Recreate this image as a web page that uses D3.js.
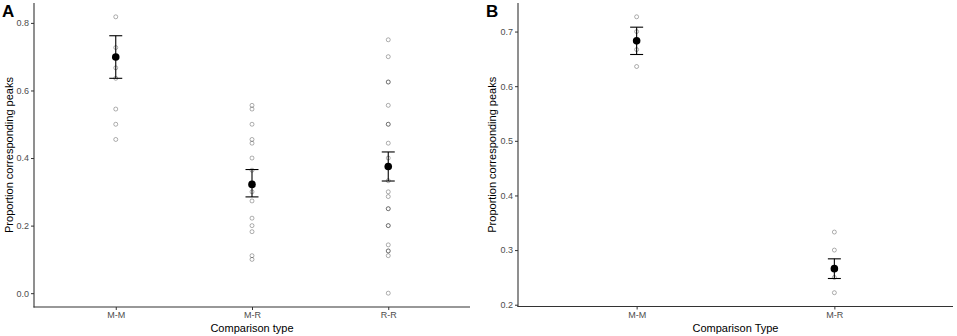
<!DOCTYPE html>
<html><head><meta charset="utf-8">
<script src="https://cdn.jsdelivr.net/npm/d3@7"></script>
<style>
body{margin:0;background:#fff;}
svg{display:block;font-family:"Liberation Sans",Arial,sans-serif;}
</style></head>
<body><svg id="c" width="957" height="336"></svg>
<script>
// Panel A data
const catsA = ["M-M", "M-R", "R-R"];
const pointsA_MM = [0.818, 0.727, 0.667, 0.636, 0.545, 0.5, 0.455];
const pointsA_MR = [0.556, 0.545, 0.5, 0.455, 0.444, 0.4, 0.364, 0.3, 0.273, 0.222, 0.2, 0.182, 0.111, 0.1];
const pointsA_RR = [0.75, 0.7, 0.625, 0.625, 0.556, 0.5, 0.5, 0.444, 0.4, 0.375, 0.333, 0.3, 0.286, 0.25, 0.25, 0.2, 0.2, 0.143, 0.125, 0.125, 0.111, 0];
const meansA = [0.699, 0.322, 0.375];
const lowA = [0.636, 0.285, 0.332];
const highA = [0.762, 0.366, 0.418];
const ticksA = [0.0, 0.2, 0.4, 0.6, 0.8];
// Panel B data
const catsB = ["M-M", "M-R"];
const pointsB_MM = [0.727, 0.7, 0.667, 0.636];
const pointsB_MR = [0.333, 0.3, 0.25, 0.222];
const meansB = [0.683, 0.266];
const lowB = [0.658, 0.248];
const highB = [0.708, 0.284];
const ticksB = [0.2, 0.3, 0.4, 0.5, 0.6, 0.7];

const svg = d3.select("#c");

function panel(o){
  const {left,right,top,bottom,cats,points,means,low,high,ticks,fmt,label,xtitle,ytitleX} = o;
  const all = points.flat().concat(low, high);
  const mn = d3.min(all), mx = d3.max(all), pad = (mx - mn) * 0.05;
  const y = d3.scaleLinear().domain([mn - pad, mx + pad]).range([bottom, top]);
  const n = cats.length;
  const x = d3.scalePoint().domain(cats).range([left, right]).padding(0.6);
  const g = svg.append("g");

  // y axis
  const ya = g.append("g").attr("transform", `translate(${left},0)`)
    .call(d3.axisLeft(y).tickValues(ticks).tickFormat(d3.format(fmt)).tickSizeOuter(0).tickSize(3).tickPadding(2));
  ya.select(".domain").remove();
  ya.selectAll(".tick line").attr("stroke", "#333").attr("stroke-width", 1);
  ya.selectAll(".tick text").attr("fill", "#4d4d4d").attr("font-size", 9).attr("font-family", "Liberation Sans, Arial, sans-serif");
  g.append("line").attr("x1", left).attr("x2", left).attr("y1", top).attr("y2", bottom + 0.5)
    .attr("stroke", "#333").attr("stroke-width", 1.1);

  // x axis
  const xa = g.append("g").attr("transform", `translate(0,${bottom})`)
    .call(d3.axisBottom(x).tickSizeOuter(0).tickSize(3).tickPadding(2));
  xa.select(".domain").remove();
  xa.selectAll(".tick line").attr("stroke", "#333").attr("stroke-width", 1);
  xa.selectAll(".tick text").attr("fill", "#4d4d4d").attr("font-size", 9).attr("font-family", "Liberation Sans, Arial, sans-serif");
  g.append("line").attr("x1", left - 0.5).attr("x2", right).attr("y1", bottom).attr("y2", bottom)
    .attr("stroke", "#333").attr("stroke-width", 1.1);

  // titles
  g.append("text").attr("x", (left + right) / 2).attr("y", bottom + 25).attr("text-anchor", "middle")
    .attr("font-size", 11).attr("fill", "#000").text(xtitle);
  g.append("text").attr("transform", `translate(${ytitleX},${(top + bottom) / 2}) rotate(-90)`)
    .attr("text-anchor", "middle").attr("dy", "0.35em").attr("font-size", 11).attr("fill", "#000")
    .text("Proportion corresponding peaks");
  g.append("text").attr("x", left - 32).attr("y", 17).attr("font-size", 17).attr("font-weight", "bold")
    .attr("fill", "#000").text(label);

  // raw points
  cats.forEach((c, i) => {
    g.selectAll(null).data(points[i]).enter().append("circle")
      .attr("cx", x(c)).attr("cy", d => y(d)).attr("r", 2)
      .attr("fill", "none").attr("stroke", "#000").attr("stroke-opacity", 0.35).attr("stroke-width", 0.9);
  });
  // error bars
  cats.forEach((c, i) => {
    const cx = x(c);
    g.append("line").attr("x1", cx).attr("x2", cx).attr("y1", y(high[i])).attr("y2", y(low[i]))
      .attr("stroke", "#000").attr("stroke-width", 1.1);
    [high[i], low[i]].forEach(v => {
      g.append("line").attr("x1", cx - 6.5).attr("x2", cx + 6.5).attr("y1", y(v)).attr("y2", y(v))
        .attr("stroke", "#000").attr("stroke-width", 1.1);
    });
    g.append("circle").attr("cx", cx).attr("cy", y(means[i])).attr("r", 3.8).attr("fill", "#000");
  });
}

panel({left:34, right:470, top:3, bottom:307, cats:catsA,
  points:[pointsA_MM, pointsA_MR, pointsA_RR], means:meansA, low:lowA, high:highA,
  ticks:ticksA, fmt:".1f", label:"A", xtitle:"Comparison type", ytitleX:9});
panel({left:518, right:953, top:3, bottom:306.5, cats:catsB,
  points:[pointsB_MM, pointsB_MR], means:meansB, low:lowB, high:highB,
  ticks:ticksB, fmt:".1f", label:"B", xtitle:"Comparison Type", ytitleX:492});
</script></body></html>
